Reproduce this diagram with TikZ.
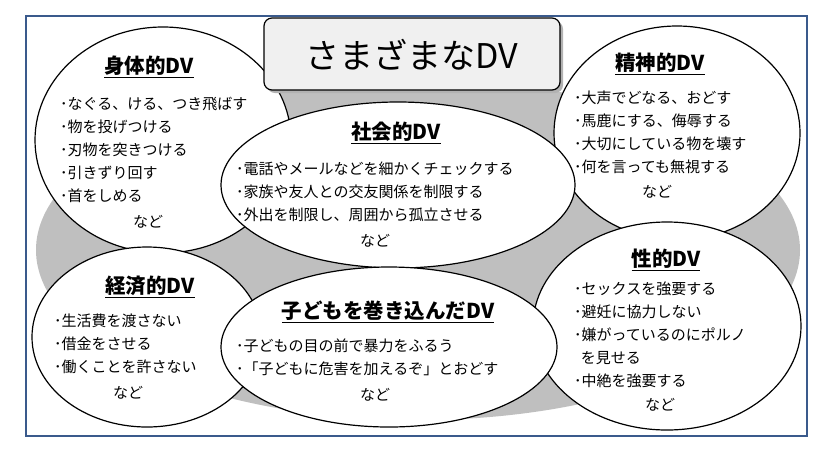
\documentclass[tikz,border=0pt]{standalone}
\usepackage{fontspec}
\setmainfont{Noto Sans CJK JP}
\usepackage{xcolor}
\definecolor{frameblue}{HTML}{3A5A8C}
\definecolor{bggray}{HTML}{BFBFBF}
\begin{document}
\begin{tikzpicture}[x=1pt,y=-1pt,
  bub/.style={draw=black,line width=1.2pt,fill=white},
  ttl/.style={font=\fontsize{20.5}{22}\selectfont\bfseries,inner sep=1pt},
  body/.style={font=\fontsize{15}{23}\selectfont,align=left,anchor=north west,inner sep=0pt},
  etc/.style={font=\fontsize{15}{16}\selectfont,inner sep=0pt}]
\useasboundingbox (0,0) rectangle (832,451);
\fill[white] (0,0) rectangle (832,451);
\draw[frameblue,line width=2pt] (26,16) rectangle (807,436);
\fill[bggray] (418,250) ellipse [x radius=382,y radius=170];
% bubbles
\draw[bub] (163,140) ellipse [x radius=128,y radius=113];
\draw[bub] (677,133) ellipse [x radius=123,y radius=107];
\draw[bub] (398,185) ellipse [x radius=177,y radius=83];
\draw[bub] (147,337) ellipse [x radius=115,y radius=90];
\draw[bub] (667,326) ellipse [x radius=134,y radius=104];
\draw[bub] (389,347) ellipse [x radius=168,y radius=80];
% title box
\fill[gray!60,rounded corners=8pt] (267,21) rectangle (563,93);
\draw[line width=1.2pt,fill=gray!12,rounded corners=8pt] (264,18) rectangle (560,90);
\node[font=\fontsize{34}{38}\selectfont] (title) at (412,55) {さまざまなDV};
% titles
\node[ttl] (t1) at (149,67) {\underline{身体的DV}};
\node[ttl] (t2) at (660,64) {\underline{精神的DV}};
\node[ttl] (t3) at (396,133) {\underline{社会的DV}};
\node[ttl] (t4) at (150,287) {\underline{経済的DV}};
\node[ttl] (t5) at (388,312) {\underline{子どもを巻き込んだDV}};
\node[ttl] (t6) at (666,260) {\underline{性的DV}};
% bodies
\node[body] (b1) at (60,97) {･なぐる、ける、つき飛ばす\\･物を投げつける\\･刃物を突きつける\\･引きずり回す\\･首をしめる};
\node[etc] (e1) at (148,222) {など};
\node[body] (b2) at (574,91) {･大声でどなる、おどす\\･馬鹿にする、侮辱する\\･大切にしている物を壊す\\･何を言っても無視する};
\node[etc] (e2) at (657,192) {など};
\node[body] (b3) at (236,162) {･電話やメールなどを細かくチェックする\\･家族や友人との交友関係を制限する\\･外出を制限し、周囲から孤立させる};
\node[etc] (e3) at (375,241) {など};
\node[body] (b4) at (54,314) {･生活費を渡さない\\･借金をさせる\\･働くことを許さない};
\node[etc] (e4) at (128,393) {など};
\node[body] (b5) at (236,339) {･子どもの目の前で暴力をふるう\\･「子どもに危害を加えるぞ」とおどす};
\node[etc] (e5) at (375,395) {など};
\node[body] (b6) at (574,282) {･セックスを強要する\\･避妊に協力しない\\･嫌がっているのにポルノ\\\ \ を見せる\\･中絶を強要する};
\node[etc] (e6) at (660,405) {など};
\end{tikzpicture}
\end{document}
